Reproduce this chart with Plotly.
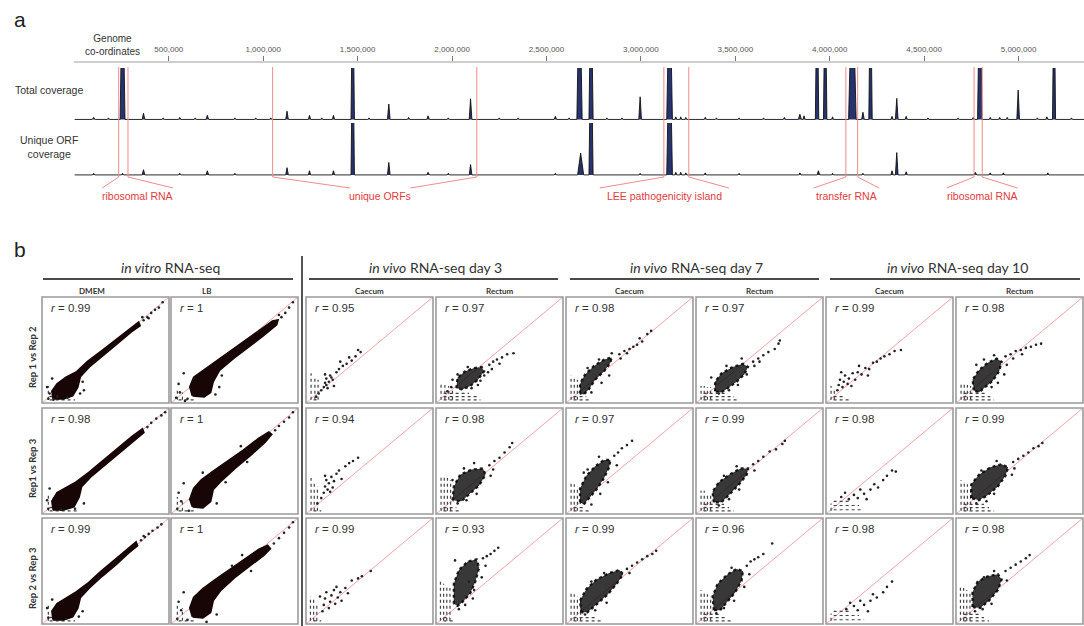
import plotly.graph_objects as go

# ======================= DATA : panel a =======================
GENOME_LENGTH = 5346659
GENOME_TICKS = [500000, 1000000, 1500000, 2000000, 2500000,
                3000000, 3500000, 4000000, 4500000, 5000000]
GENOME_TICK_TEXT = ["500,000", "1,000,000", "1,500,000", "2,000,000", "2,500,000",
                    "3,000,000", "3,500,000", "4,000,000", "4,500,000", "5,000,000"]

# total coverage peaks: centre (bp), relative height (>1 = clipped), half width (bp)
TOTAL_POS = [102e3, 180e3, 255e3, 366e3, 470e3, 558e3, 640e3, 704e3, 850e3, 960e3,
             1040e3, 1126e3, 1245e3, 1310e3, 1372e3, 1474e3, 1560e3, 1665e3, 1770e3, 1873e3,
             1980e3, 2098e3, 2250e3, 2350e3, 2547e3, 2620e3, 2675e3, 2736e3, 2820e3, 2900e3,
             2996e3, 3152e3, 3185e3, 3211e3, 3238e3, 3341e3, 3400e3, 3520e3, 3650e3, 3760e3,
             3842e3, 3864e3, 3933e3, 3976e3, 4015e3, 4120e3, 4176e3, 4216e3, 4330e3, 4355e3,
             4405e3, 4520e3, 4680e3, 4760e3, 4795e3, 4850e3, 4900e3, 4940e3, 4998e3, 5100e3,
             5150e3, 5188e3, 5280e3]
TOTAL_H = [0.04, 0.03, 3.0, 0.12, 0.03, 0.04, 0.03, 0.08, 0.03, 0.03,
           0.03, 0.16, 0.08, 0.03, 0.08, 3.0, 0.03, 0.30, 0.04, 0.07,
           0.03, 0.40, 0.03, 0.03, 0.06, 0.03, 3.0, 3.0, 0.03, 0.03,
           0.44, 3.0, 0.05, 0.05, 0.04, 0.04, 0.03, 0.03, 0.03, 0.04,
           0.10, 0.07, 3.0, 3.0, 0.05, 3.0, 0.14, 3.0, 0.06, 0.41,
           0.06, 0.03, 0.03, 0.04, 3.0, 0.04, 0.04, 0.04, 0.57, 0.03,
           0.05, 3.0, 0.03]
TOTAL_W = [8e3, 6e3, 13e3, 7e3, 6e3, 6e3, 6e3, 7e3, 6e3, 6e3,
           6e3, 7e3, 6e3, 5e3, 6e3, 9e3, 6e3, 7e3, 6e3, 7e3,
           6e3, 7e3, 6e3, 6e3, 7e3, 6e3, 14e3, 11e3, 6e3, 6e3,
           7e3, 15e3, 5e3, 5e3, 5e3, 6e3, 6e3, 6e3, 6e3, 6e3,
           8e3, 6e3, 9e3, 9e3, 5e3, 20e3, 7e3, 9e3, 6e3, 7e3,
           6e3, 6e3, 6e3, 6e3, 12e3, 6e3, 6e3, 5e3, 7e3, 6e3,
           6e3, 8e3, 6e3]

UNIQUE_POS = [102e3, 255e3, 366e3, 558e3, 704e3, 850e3, 1126e3, 1245e3, 1372e3, 1474e3,
              1665e3, 1873e3, 1980e3, 2098e3, 2547e3, 2681e3, 2736e3, 2996e3, 3152e3, 3185e3,
              3211e3, 3238e3, 3341e3, 3520e3, 3842e3, 3940e3, 4015e3, 4176e3, 4330e3, 4355e3,
              4405e3, 4771e3, 4850e3, 4920e3, 5155e3]
UNIQUE_H = [0.03, 0.03, 0.10, 0.03, 0.08, 0.03, 0.14, 0.08, 0.08, 3.0,
            0.24, 0.05, 0.03, 0.20, 0.03, 0.42, 3.0, 0.03, 3.0, 0.05,
            0.05, 0.04, 0.04, 0.03, 0.04, 0.08, 0.03, 0.03, 0.08, 0.43,
            0.06, 0.05, 0.04, 0.04, 0.04]
UNIQUE_W = [6e3, 6e3, 7e3, 6e3, 7e3, 6e3, 7e3, 6e3, 6e3, 9e3,
            7e3, 7e3, 6e3, 7e3, 6e3, 16e3, 11e3, 6e3, 15e3, 5e3,
            5e3, 5e3, 6e3, 6e3, 6e3, 7e3, 5e3, 6e3, 6e3, 7e3,
            6e3, 8e3, 6e3, 6e3, 6e3]

REGION_LABELS = ["ribosomal RNA", "unique ORFs", "LEE pathogenicity island",
                 "transfer RNA", "ribosomal RNA"]
REGION_START = [234.7e3, 1049.7e3, 3121.6e3, 4085.6e3, 4764.3e3]
REGION_END = [283.8e3, 2131.1e3, 3253.7e3, 4148.0e3, 4807.6e3]
REGION_LABEL_CENTRE = [335e3, 1620e3, 3124e3, 4088e3, 4807e3]

# ======================= DATA : panel b =======================
GROUP_TITLES = ["<i>in vitro</i> RNA-seq", "<i>in vivo</i> RNA-seq day 3",
                "<i>in vivo</i> RNA-seq day 7", "<i>in vivo</i> RNA-seq day 10"]
COLUMN_TITLES = ["DMEM", "LB", "Caecum", "Rectum", "Caecum", "Rectum", "Caecum", "Rectum"]
ROW_TITLES = ["Rep 1 vs Rep 2", "Rep1 vs Rep 3", "Rep 2 vs Rep 3"]
R_VALUES = [["0.99", "1", "0.95", "0.97", "0.98", "0.97", "0.99", "0.98"],
            ["0.98", "1", "0.94", "0.98", "0.97", "0.99", "0.98", "0.99"],
            ["0.99", "1", "0.99", "0.93", "0.99", "0.96", "0.98", "0.98"]]
DIAG = [0, 10]

# dense-cloud outlines (log expression, rep A vs rep B), one per panel (row-major)
CLOUD_X = [
    [0.9, 0.8, 1.2, 1.9, 2.7, 3.6, 4.8, 6.0, 7.0, 7.6, 7.7, 7.0, 5.9, 4.8, 3.7, 3.0, 2.8, 2.4, 1.7],
    [1.7, 1.5, 1.8, 2.5, 3.5, 4.6, 5.8, 7.0, 8.0, 8.4, 8.3, 7.3, 6.1, 4.9, 3.8, 3.3, 3.1, 2.6],
    [],
    [1.6, 1.7, 2.3, 3.0, 3.6, 3.8, 3.3, 2.7, 2.1],
    [1.1, 1.1, 1.5, 2.2, 3.0, 3.6, 3.5, 3.0, 2.3, 1.8, 1.4],
    [1.5, 1.5, 2.0, 2.9, 3.7, 4.1, 3.8, 3.2, 2.5, 2.0],
    [],
    [1.4, 1.3, 1.8, 2.5, 3.2, 3.6, 3.4, 2.9, 2.2, 1.8],
    [0.9, 0.8, 1.2, 1.9, 2.7, 3.7, 4.8, 6.0, 7.1, 7.9, 8.0, 7.2, 6.1, 5.0, 3.9, 3.1, 2.9, 2.5, 1.7],
    [1.7, 1.5, 1.8, 2.4, 3.3, 4.5, 5.7, 6.9, 7.7, 7.9, 7.4, 6.3, 5.1, 4.0, 3.3, 3.1, 2.5],
    [],
    [1.3, 1.4, 1.9, 2.8, 3.7, 3.9, 3.4, 2.6, 2.0],
    [1.1, 1.1, 1.6, 2.3, 3.0, 3.5, 3.4, 3.0, 2.4, 1.8, 1.4],
    [1.4, 1.3, 1.8, 2.6, 3.5, 4.1, 4.0, 3.4, 2.6, 2.0],
    [],
    [1.2, 1.2, 1.8, 2.7, 3.6, 4.1, 3.9, 3.3, 2.4, 1.8],
    [0.9, 0.8, 1.2, 1.9, 2.7, 3.6, 4.6, 5.8, 6.9, 7.4, 7.5, 6.8, 5.8, 4.7, 3.7, 3.0, 2.8, 2.4, 1.7],
    [1.7, 1.5, 1.8, 2.5, 3.4, 4.6, 5.8, 6.9, 7.6, 7.8, 7.3, 6.2, 5.0, 3.9, 3.3, 3.1, 2.5],
    [],
    [1.4, 1.4, 1.8, 2.5, 3.2, 3.4, 3.1, 2.7, 2.1, 1.7],
    [1.2, 1.1, 1.6, 2.4, 3.4, 4.2, 4.5, 4.0, 3.3, 2.4, 1.7],
    [1.4, 1.3, 1.7, 2.5, 3.2, 3.7, 3.6, 3.1, 2.4, 1.9],
    [],
    [1.3, 1.3, 1.7, 2.5, 3.3, 3.6, 3.3, 2.6, 1.9],
]
CLOUD_Y = [
    [0.4, 1.1, 1.8, 2.4, 2.9, 3.9, 5.0, 6.1, 7.1, 7.6, 7.3, 6.7, 5.6, 4.5, 3.4, 2.5, 1.5, 0.7, 0.4],
    [0.7, 1.5, 2.4, 3.0, 3.8, 4.8, 5.8, 6.8, 7.7, 7.8, 7.4, 6.4, 5.3, 4.2, 3.1, 2.0, 1.0, 0.6],
    [],
    [1.4, 2.4, 3.0, 3.3, 3.4, 3.0, 2.2, 1.6, 1.3],
    [0.9, 1.8, 2.7, 3.5, 4.1, 4.3, 3.8, 3.0, 2.2, 1.3, 0.8],
    [1.1, 2.0, 2.8, 3.4, 3.7, 3.4, 2.7, 2.0, 1.4, 1.0],
    [],
    [1.2, 2.2, 3.1, 3.8, 4.2, 3.9, 3.0, 2.1, 1.4, 1.0],
    [0.4, 1.2, 2.0, 2.5, 3.0, 3.9, 5.0, 6.2, 7.3, 8.0, 7.7, 6.9, 5.8, 4.7, 3.6, 2.6, 1.6, 0.7, 0.4],
    [0.7, 1.4, 2.4, 3.2, 4.0, 5.0, 6.0, 7.1, 7.7, 7.5, 6.8, 5.6, 4.4, 3.2, 2.3, 1.2, 0.6],
    [],
    [1.3, 2.6, 3.7, 4.2, 4.3, 3.7, 2.7, 1.8, 1.2],
    [1.1, 2.4, 3.6, 4.5, 5.1, 5.1, 4.4, 3.4, 2.3, 1.4, 0.9],
    [1.1, 2.1, 3.0, 3.7, 4.3, 4.3, 3.7, 2.8, 1.8, 1.1],
    [],
    [1.5, 2.8, 3.7, 4.4, 4.7, 4.4, 3.6, 2.6, 1.7, 1.3],
    [0.4, 1.2, 1.9, 2.4, 3.0, 3.8, 4.9, 6.1, 7.2, 7.7, 7.4, 6.7, 5.6, 4.5, 3.4, 2.5, 1.5, 0.7, 0.4],
    [0.7, 1.5, 2.5, 3.3, 4.1, 5.1, 6.1, 7.0, 7.4, 7.1, 6.5, 5.5, 4.4, 3.2, 2.2, 1.1, 0.6],
    [],
    [1.9, 3.8, 5.1, 5.9, 6.1, 5.3, 4.0, 2.9, 2.1, 1.7],
    [1.1, 2.2, 3.3, 4.2, 4.8, 5.1, 4.7, 3.8, 2.8, 1.8, 1.1],
    [1.3, 2.6, 3.8, 4.7, 5.2, 5.0, 4.1, 3.0, 2.0, 1.3],
    [],
    [1.6, 3.0, 4.0, 4.5, 4.7, 4.2, 3.2, 2.2, 1.5],
]

# individual genes outside the dense clouds
POINT_X = [
    [8.0, 8.3, 8.6, 8.9, 9.2, 9.5, 7.9, 8.4, 0.5, 0.9, 1.2, 0.4, 0.8, 3.2, 3.3, 0.6, 2.0, 3.0],
    [8.7, 9.0, 9.3, 9.6, 8.5, 0.6, 0.4, 0.7, 1.0, 3.8, 4.0, 1.1, 1.3, 3.5],
    [1.4, 1.5, 1.6, 1.5, 1.8, 1.9, 2.1, 2.2, 1.7, 2.4, 2.6, 2.9, 3.2, 3.6, 3.9, 4.1, 4.3, 3.4, 2.7, 1.2, 1.0, 0.8, 1.6, 2.0],
    [4.2, 4.5, 4.8, 5.2, 5.6, 6.1, 5.0, 4.4, 3.8, 4.1, 3.3, 2.5, 1.3, 1.2, 0.9, 2.0, 2.8, 3.5, 1.7],
    [4.2, 4.6, 5.0, 5.3, 5.6, 6.0, 6.4, 6.7, 5.8, 4.8, 3.6, 2.6, 1.7, 4.3, 1.3, 2.0, 2.8, 3.4],
    [4.5, 4.9, 5.3, 5.7, 6.2, 6.6, 6.5, 5.0, 4.6, 3.6, 2.4, 1.2, 1.8, 2.6, 3.3, 4.0],
    [0.9, 1.0, 1.1, 1.3, 1.4, 1.5, 1.7, 1.8, 2.0, 2.1, 2.3, 2.5, 2.8, 3.1, 3.4, 3.7, 4.0, 4.3, 4.6, 5.0, 5.4, 5.9, 1.2, 2.6, 3.3],
    [3.9, 4.3, 4.7, 5.1, 5.5, 5.9, 6.3, 6.7, 4.5, 5.2, 3.0, 4.0, 3.8, 1.6, 2.2, 2.8, 3.3],
    [8.3, 8.6, 9.0, 9.4, 9.7, 0.5, 0.4, 3.3, 0.6, 1.5, 2.6],
    [8.2, 8.5, 8.9, 9.3, 9.6, 5.5, 6.0, 4.3, 2.5, 0.5, 0.8, 0.6, 1.0, 3.6, 1.4],
    [1.4, 1.5, 1.6, 1.7, 1.8, 2.0, 2.1, 2.2, 1.5, 1.9, 2.6, 3.1, 3.7, 4.1, 3.4, 2.4, 1.2, 0.9, 2.8],
    [4.2, 4.6, 5.0, 5.4, 5.8, 6.0, 4.5, 3.0, 2.2, 1.3, 4.3, 1.7, 2.4, 3.2],
    [3.8, 4.1, 4.4, 4.8, 5.2, 2.6, 1.7, 4.0, 3.3, 1.4, 2.0, 2.7],
    [4.5, 4.9, 5.3, 5.8, 6.3, 6.8, 7.0, 4.6, 3.2, 2.2, 1.8, 2.6, 3.4],
    [3.5, 3.8, 4.1, 4.5, 4.8, 5.2, 5.5, 3.0, 2.7, 2.2, 1.8, 1.5, 1.2, 2.5, 3.2],
    [4.5, 4.9, 5.3, 5.7, 6.1, 6.5, 6.8, 4.6, 3.2, 2.0, 4.4, 1.6, 2.4, 3.0],
    [7.8, 8.1, 8.4, 8.7, 9.1, 9.4, 8.0, 0.5, 0.4, 3.2, 0.8, 1.9, 2.9],
    [8.1, 8.5, 8.9, 9.3, 9.6, 5.6, 4.8, 6.3, 0.5, 0.8, 0.6, 1.0, 3.6, 2.8, 1.3],
    [1.3, 1.4, 1.5, 1.6, 1.8, 1.9, 2.0, 2.2, 2.3, 2.5, 2.7, 2.8, 3.1, 3.6, 4.1, 4.4, 5.1, 3.3, 1.1, 2.4],
    [3.7, 4.0, 4.3, 4.6, 4.9, 3.9, 3.6, 2.6, 1.5, 3.0, 1.8, 2.3, 2.9],
    [4.8, 5.2, 5.6, 6.0, 6.4, 6.8, 7.1, 5.0, 3.0, 2.0, 1.5, 2.3, 3.2],
    [4.0, 4.3, 4.6, 4.9, 5.3, 6.0, 4.2, 2.8, 3.8, 1.6, 2.2, 3.0],
    [3.5, 3.7, 4.0, 4.8, 5.2, 4.5, 3.0, 2.7, 2.2, 1.9, 1.6, 2.5, 3.3],
    [3.9, 4.3, 4.7, 5.1, 5.5, 5.8, 3.0, 4.0, 2.2, 1.5, 2.1, 2.8],
]
POINT_Y = [
    [7.8, 8.1, 8.5, 8.8, 9.0, 9.5, 8.1, 8.0, 0.4, 0.3, 0.6, 1.5, 2.3, 2.0, 1.2, 0.9, 0.5, 0.9],
    [8.1, 8.5, 9.0, 9.5, 8.3, 1.8, 0.5, 1.0, 2.8, 1.5, 2.6, 0.2, 0.4, 0.8],
    [1.5, 1.9, 2.3, 2.7, 2.0, 2.6, 2.2, 1.6, 1.4, 2.9, 3.2, 3.5, 3.7, 4.0, 4.4, 5.0, 4.8, 4.3, 3.9, 1.2, 0.9, 0.6, 1.7, 2.4],
    [3.6, 3.9, 4.1, 4.3, 4.6, 4.7, 3.7, 3.2, 2.6, 2.9, 1.7, 3.4, 2.2, 1.5, 1.1, 1.3, 1.4, 2.1, 2.7],
    [4.6, 4.9, 5.1, 5.3, 5.5, 5.8, 6.5, 6.8, 6.1, 4.7, 4.7, 4.1, 3.3, 4.2, 2.2, 1.0, 1.9, 2.6],
    [3.9, 4.2, 4.5, 4.8, 5.1, 5.9, 5.6, 3.9, 3.5, 4.2, 3.5, 2.4, 0.9, 1.2, 1.7, 2.7],
    [1.2, 1.7, 2.2, 1.5, 2.0, 2.6, 1.8, 2.3, 1.6, 2.8, 2.2, 2.9, 2.7, 3.3, 3.2, 3.8, 3.9, 4.2, 4.4, 4.6, 4.9, 5.0, 2.9, 3.5, 2.6],
    [4.4, 4.6, 4.9, 5.0, 5.2, 5.3, 5.5, 5.6, 4.2, 4.6, 4.5, 3.6, 2.7, 3.6, 4.1, 1.5, 1.9],
    [8.2, 8.6, 9.0, 9.3, 9.6, 0.5, 1.3, 1.0, 2.4, 0.4, 0.5],
    [7.9, 8.3, 8.7, 9.1, 9.6, 6.4, 4.9, 3.0, 3.9, 0.5, 1.2, 2.0, 2.9, 1.0, 0.3],
    [2.0, 2.6, 3.2, 2.3, 2.9, 3.5, 2.5, 3.1, 3.6, 2.1, 4.1, 4.5, 5.0, 5.3, 4.8, 3.8, 1.5, 1.0, 3.3],
    [4.6, 5.0, 5.3, 5.8, 6.3, 6.7, 4.2, 4.8, 4.3, 3.2, 3.6, 1.0, 1.3, 1.9],
    [5.5, 5.8, 6.2, 6.5, 6.9, 5.4, 4.2, 4.6, 3.0, 3.9, 0.9, 1.9],
    [4.7, 5.0, 5.4, 5.9, 6.1, 6.6, 6.9, 4.1, 4.5, 3.6, 0.8, 1.4, 2.3],
    [2.3, 2.8, 2.5, 3.2, 3.6, 4.1, 4.0, 1.9, 2.3, 1.8, 1.4, 2.0, 1.6, 1.5, 1.4],
    [4.9, 5.2, 5.5, 5.8, 6.2, 6.4, 6.7, 4.3, 5.0, 4.1, 3.7, 1.0, 1.2, 1.9],
    [7.9, 8.2, 8.5, 8.8, 9.1, 9.4, 8.3, 0.6, 1.5, 1.2, 2.3, 0.5, 0.7],
    [7.6, 8.1, 8.6, 9.1, 9.6, 6.5, 5.5, 5.0, 0.5, 1.3, 2.1, 3.0, 0.9, 0.2, 0.4],
    [1.2, 1.8, 2.4, 3.0, 1.5, 2.1, 2.7, 3.2, 1.9, 2.5, 3.0, 2.2, 3.4, 4.1, 4.3, 4.5, 5.0, 2.9, 2.6, 3.5],
    [6.2, 6.4, 6.6, 6.9, 7.2, 5.5, 4.4, 4.0, 6.0, 3.2, 1.4, 1.8, 2.4],
    [5.2, 5.5, 5.8, 6.1, 6.4, 6.6, 6.9, 4.8, 4.8, 4.0, 0.9, 1.3, 2.0],
    [5.5, 5.9, 6.1, 6.3, 6.6, 7.6, 4.7, 5.3, 3.5, 1.0, 1.5, 2.2],
    [2.2, 2.8, 2.5, 3.5, 4.0, 3.0, 1.8, 2.2, 1.7, 2.0, 1.4, 1.3, 1.2],
    [5.0, 5.3, 5.6, 5.9, 6.2, 6.5, 5.0, 4.1, 4.4, 1.2, 1.4, 1.9],
]

# low-count columns (vertical stacks at integer counts) and rows
STRIPE_X = [
    [0.5, 0.9, 1.3], [0.5, 0.9], [0.4, 0.7, 0.95], [0.4, 0.7, 1.0, 1.3],
    [0.4, 0.65, 0.9], [0.4, 0.65, 0.9, 1.15], [0.4, 0.65], [0.4, 0.65, 0.9, 1.15],
    [0.5, 0.9], [0.5, 0.9], [0.4, 0.65, 0.9], [0.4, 0.65, 0.9, 1.15],
    [0.4, 0.65, 0.9], [0.4, 0.65, 0.9, 1.15], [0.4], [0.4, 0.65, 0.9, 1.15],
    [0.5, 0.9], [0.5, 0.9], [0.35, 0.6, 0.85], [0.35, 0.6, 0.85, 1.1],
    [0.4, 0.65, 0.9, 1.15], [0.4, 0.65, 0.9, 1.15], [0.4], [0.35, 0.6, 0.85, 1.1],
]
STRIPE_TOP = [
    [1.6, 1.4, 1.2], [1.2, 1.0], [2.8, 2.5, 2.2], [1.8, 1.7, 1.6, 1.5],
    [2.6, 2.4, 2.2], [1.6, 1.6, 1.5, 1.5], [1.6, 1.4], [1.8, 1.8, 1.7, 1.6],
    [1.8, 1.6], [1.6, 1.4], [3.4, 3.0, 2.6], [3.6, 3.5, 3.4, 3.2],
    [3.0, 2.8, 2.6], [2.2, 2.2, 2.0, 1.9], [1.0], [3.2, 3.0, 2.8, 2.6],
    [1.8, 1.5], [1.8, 1.5], [2.6, 2.3, 2.0], [4.1, 3.8, 3.6, 3.4],
    [3.0, 2.8, 2.6, 2.4], [3.2, 3.0, 2.8, 2.6], [1.0], [3.6, 3.4, 3.2, 3.0],
]
ROW_Y = [
    [0.3, 0.6], [0.3], [0.3], [0.3, 0.6, 0.9],
    [0.3, 0.6], [0.3, 0.6, 0.9], [0.3, 0.6], [0.3, 0.6, 0.9],
    [0.3, 0.6], [0.3], [0.3], [0.3, 0.6],
    [0.3, 0.6], [0.3, 0.6, 0.9], [0.4, 0.8, 1.2], [0.3, 0.6, 0.9],
    [0.3, 0.6], [0.3], [0.3], [0.3, 0.6],
    [0.3, 0.6], [0.3, 0.6, 0.9], [0.4, 0.8, 1.2], [0.3, 0.6, 0.9],
]
ROW_END = [
    [2.6, 2.2], [2.0], [1.0], [3.5, 3.2, 2.6],
    [2.0, 1.6], [3.2, 3.0, 2.5], [1.8, 1.4], [3.0, 2.7, 2.3],
    [2.8, 2.4], [2.0], [1.2], [2.0, 1.6],
    [1.8, 1.4], [3.0, 2.6, 2.2], [2.8, 2.6, 2.0], [3.0, 2.6, 2.2],
    [2.6, 2.2], [2.0], [1.2], [1.4, 1.1],
    [2.8, 2.4], [2.8, 2.4, 2.0], [3.0, 2.6, 1.8], [2.6, 2.2, 1.8],
]

# ======================= FIGURE =======================
W, H = 1084, 626


def px(x):
    return x / W


def py(y):
    return 1 - y / H


def peaks_to_trace(pos, hts, wds):
    order = sorted(range(len(pos)), key=lambda i: pos[i])
    xs, ys = [0], [0]
    for i in order:
        xs += [pos[i] - wds[i], pos[i], pos[i] + wds[i]]
        ys += [0, hts[i], 0]
    xs.append(GENOME_LENGTH)
    ys.append(0)
    return xs, ys


fig = go.Figure()
shapes = []
annotations = []
FONT = "Liberation Sans, Arial, sans-serif"
HFONT = "Lato, Open Sans, sans-serif"

# ---------- panel a ----------
AX_LEFT = 74.4
for ya, pos, hts, wds in (("y", TOTAL_POS, TOTAL_H, TOTAL_W),
                          ("y2", UNIQUE_POS, UNIQUE_H, UNIQUE_W)):
    xs, ys = peaks_to_trace(pos, hts, wds)
    fig.add_trace(go.Scatter(x=xs, y=ys, xaxis="x", yaxis=ya, mode="lines",
                             fill="tozeroy", fillcolor="#26336f",
                             line=dict(color="#111111", width=0.9),
                             hoverinfo="skip", showlegend=False))

layout_axes = dict(
    xaxis=dict(domain=[px(AX_LEFT), 1], range=[0, GENOME_LENGTH], anchor="free",
               position=py(61.5), side="top", showline=True, linecolor="#cfcfcf",
               linewidth=2, ticks="outside", ticklen=5, tickcolor="#777", tickwidth=1,
               tickvals=GENOME_TICKS, ticktext=GENOME_TICK_TEXT,
               tickfont=dict(size=8, color="#555", family=FONT),
               showgrid=False, zeroline=False, fixedrange=True),
    yaxis=dict(domain=[py(121.5), py(68)], range=[-0.04, 1], visible=False, anchor="x",
               fixedrange=True),
    yaxis2=dict(domain=[py(177), py(123)], range=[-0.04, 1], visible=False, anchor="x",
                fixedrange=True),
)

annotations.append(dict(text="a", x=px(12), y=py(20), xref="paper", yref="paper",
                        xanchor="left", yanchor="middle", showarrow=False,
                        font=dict(size=21, color="#222", family=FONT)))
annotations.append(dict(text="Genome<br>co-ordinates", x=px(112), y=py(45), xref="paper",
                        yref="paper", xanchor="center", yanchor="middle", showarrow=False,
                        font=dict(size=10, color="#333", family=FONT)))
annotations.append(dict(text="Total coverage", x=px(49), y=py(90), xref="paper", yref="paper",
                        xanchor="center", yanchor="middle", showarrow=False,
                        font=dict(size=10.5, color="#333", family=FONT)))
annotations.append(dict(text="Unique ORF<br>coverage", x=px(49), y=py(147), xref="paper",
                        yref="paper", xanchor="center", yanchor="middle", showarrow=False,
                        font=dict(size=10.5, color="#333", family=FONT)))

RED_LINE = "#f08c8c"
RED_TEXT = "#e23b40"
LINE_TOP, LINE_BOT, DIAG_END, LABEL_Y = 67, 177, 188, 196
x_scale = (W - AX_LEFT) / GENOME_LENGTH
for lab, s, e, c in zip(REGION_LABELS, REGION_START, REGION_END, REGION_LABEL_CENTRE):
    half = len(lab) * 2.65 + 1
    cx = AX_LEFT + c * x_scale
    for g, edge in ((s, cx - half), (e, cx + half)):
        gx = AX_LEFT + g * x_scale
        shapes.append(dict(type="line", xref="paper", yref="paper", x0=px(gx), x1=px(gx),
                           y0=py(LINE_TOP), y1=py(LINE_BOT),
                           line=dict(color=RED_LINE, width=1)))
        shapes.append(dict(type="line", xref="paper", yref="paper", x0=px(gx), x1=px(edge),
                           y0=py(LINE_BOT), y1=py(DIAG_END),
                           line=dict(color=RED_LINE, width=1)))
    annotations.append(dict(text=lab, x=px(cx), y=py(LABEL_Y), xref="paper", yref="paper",
                            xanchor="center", yanchor="middle", showarrow=False,
                            font=dict(size=10.5, color=RED_TEXT, family=FONT)))

# ---------- panel b ----------
COL_LEFT = [42, 171, 306, 436, 566, 696, 826, 956]
BOX_W = 127
ROW_TOP = [297, 408, 518]
BOX_H = 106

annotations.append(dict(text="b", x=px(12), y=py(249), xref="paper", yref="paper",
                        xanchor="left", yanchor="middle", showarrow=False,
                        font=dict(size=21, color="#222", family=FONT)))

GROUP_LINES = [(43, 293), (309, 558), (570, 819), (830, 1080)]
for title, (a0, a1) in zip(GROUP_TITLES, GROUP_LINES):
    shapes.append(dict(type="line", xref="paper", yref="paper", x0=px(a0), x1=px(a1),
                       y0=py(279), y1=py(279), line=dict(color="#4a4a4a", width=2.2)))
    annotations.append(dict(text=title, x=px((a0 + a1) / 2 + 2), y=py(267), xref="paper",
                            yref="paper", xanchor="center", yanchor="middle",
                            showarrow=False,
                            font=dict(size=14, color="#333", family=HFONT)))
shapes.append(dict(type="line", xref="paper", yref="paper", x0=px(302), x1=px(302),
                   y0=py(256), y1=py(626), line=dict(color="#555", width=2)))

COL_TITLE_X = [92, 206] + [l + BOX_W / 2 for l in COL_LEFT[2:]]
for t, cxp in zip(COLUMN_TITLES, COL_TITLE_X):
    annotations.append(dict(text="<b>" + t + "</b>", x=px(cxp), y=py(291), xref="paper",
                            yref="paper", xanchor="center", yanchor="middle",
                            showarrow=False, font=dict(size=8, color="#333", family=HFONT)))
for t, top in zip(ROW_TITLES, ROW_TOP):
    annotations.append(dict(text="<b>" + t + "</b>", x=px(32), y=py(top + BOX_H / 2 + 7),
                            xref="paper", yref="paper", xanchor="center", yanchor="middle",
                            textangle=-90, showarrow=False,
                            font=dict(size=9.5, color="#333", family=HFONT)))

k = 3
for r, top in enumerate(ROW_TOP):
    for c, left in enumerate(COL_LEFT):
        p = r * 8 + c
        xa, ya = f"x{k}", f"y{k}"
        layout_axes[f"xaxis{k}"] = dict(domain=[px(left), px(left + BOX_W)], range=[0, 10],
                                        visible=False, anchor=ya, fixedrange=True)
        layout_axes[f"yaxis{k}"] = dict(domain=[py(top + BOX_H), py(top)], range=[0, 10],
                                        visible=False, anchor=xa, fixedrange=True)
        # identity line
        fig.add_trace(go.Scatter(x=DIAG, y=DIAG, xaxis=xa, yaxis=ya, mode="lines",
                                 line=dict(color="#f3a3a3", width=1), hoverinfo="skip",
                                 showlegend=False))
        # low-count stripes
        sx, sy = [], []
        for x0, t in zip(STRIPE_X[p], STRIPE_TOP[p]):
            sx += [x0, x0, None]
            sy += [0.3, t, None]
        for y0, e in zip(ROW_Y[p], ROW_END[p]):
            sx += [0.6, e, None]
            sy += [y0, y0, None]
        fig.add_trace(go.Scatter(x=sx, y=sy, xaxis=xa, yaxis=ya, mode="lines",
                                 line=dict(color="#444", width=1.2, dash="dot"),
                                 hoverinfo="skip", showlegend=False))
        # dense cloud
        if CLOUD_X[p]:
            invitro = c < 2
            fill = "#180505" if invitro else "rgba(12,12,12,0.82)"
            edge = "#180505" if invitro else "rgba(0,0,0,0.85)"
            fig.add_trace(go.Scatter(x=CLOUD_X[p] + [CLOUD_X[p][0]],
                                     y=CLOUD_Y[p] + [CLOUD_Y[p][0]],
                                     xaxis=xa, yaxis=ya, mode="lines", fill="toself",
                                     fillcolor=fill,
                                     line=dict(color=edge, width=2.2,
                                               dash="solid" if invitro else "dot"),
                                     hoverinfo="skip", showlegend=False))
        # individual points
        fig.add_trace(go.Scatter(x=POINT_X[p], y=POINT_Y[p], xaxis=xa, yaxis=ya,
                                 mode="markers",
                                 marker=dict(size=2.6, color="#222"),
                                 hoverinfo="skip", showlegend=False))
        # box
        shapes.append(dict(type="rect", xref="paper", yref="paper",
                           x0=px(left), x1=px(left + BOX_W), y0=py(top + BOX_H), y1=py(top),
                           line=dict(color="#9b9b9b", width=1.6)))
        annotations.append(dict(text="<i>r</i> = " + R_VALUES[r][c], x=px(left + 7),
                                y=py(top + 11), xref="paper", yref="paper",
                                xanchor="left", yanchor="middle", showarrow=False,
                                font=dict(size=11.5, color="#333", family=FONT)))
        k += 1

fig.update_layout(width=W, height=H, margin=dict(l=0, r=0, t=0, b=0),
                  paper_bgcolor="white", plot_bgcolor="white", showlegend=False,
                  shapes=shapes, annotations=annotations, **layout_axes)

fig.write_html("out.html", config={"displayModeBar": False},
               post_script="document.body.style.margin='0';"
                           "document.body.style.overflow='hidden';")
